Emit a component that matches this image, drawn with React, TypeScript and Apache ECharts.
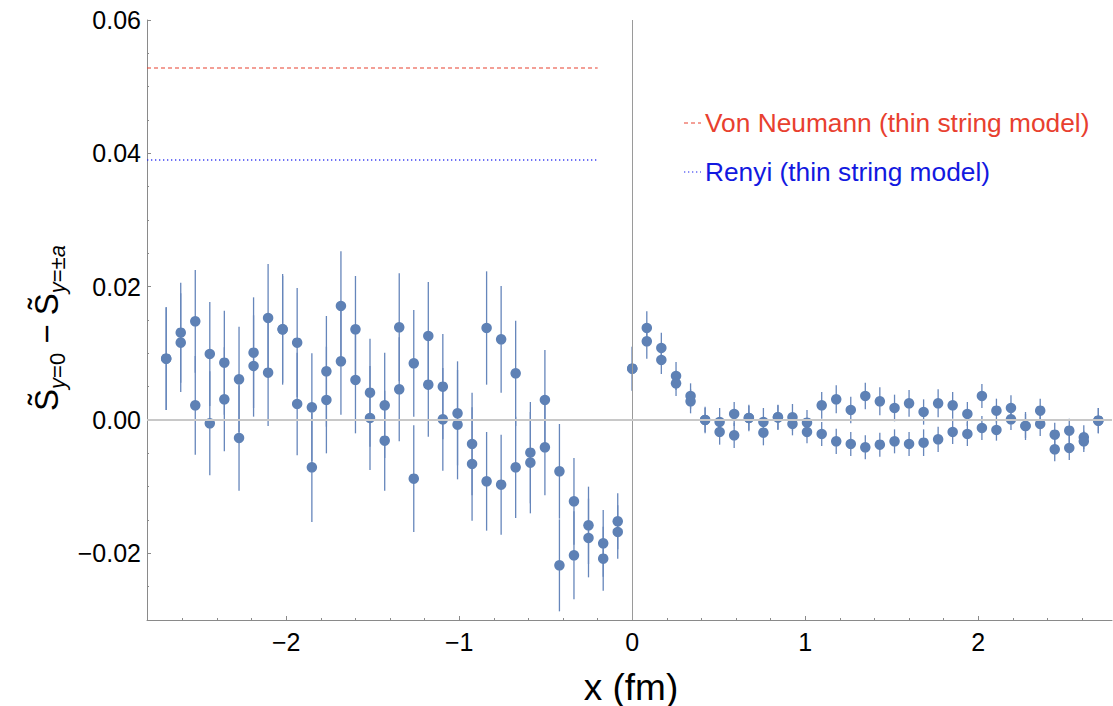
import React, { useEffect, useRef } from "react";
import * as echarts from "echarts";

// lattice positions (fm)
const xs = [-2.694, -2.61, -2.526, -2.442, -2.358, -2.273, -2.189, -2.105, -2.021, -1.937, -1.852, -1.768, -1.684, -1.6, -1.516, -1.431, -1.347, -1.263, -1.179, -1.095, -1.01, -0.926, -0.842, -0.758, -0.674, -0.589, -0.505, -0.421, -0.337, -0.253, -0.168, -0.084, 0, 0.084, 0.168, 0.253, 0.337, 0.421, 0.505, 0.589, 0.674, 0.758, 0.842, 0.926, 1.01, 1.095, 1.179, 1.263, 1.347, 1.431, 1.516, 1.6, 1.684, 1.768, 1.852, 1.937, 2.021, 2.105, 2.189, 2.273, 2.358, 2.442, 2.526, 2.61, 2.694];

const upperVals = [0.0092, 0.0131, 0.0148, 0.0099, 0.0086, 0.0061, 0.0101, 0.0153, 0.0136, 0.0116, 0.0019, 0.0073, 0.0171, 0.0136, 0.0041, 0.0022, 0.0139, 0.0085, 0.0126, 0.005, 0.001, -0.0036, 0.0138, 0.0121, 0.007, -0.0049, 0.003, -0.0077, -0.0122, -0.0158, -0.0185, -0.0152, 0.0077, 0.0138, 0.0108, 0.0066, 0.0036, 0.0, -0.0003, 0.0009, 0.0003, -0.0003, 0.0004, 0.0004, -0.0004, 0.0022, 0.0031, 0.0015, 0.0036, 0.0028, 0.0018, 0.0025, 0.0012, 0.0025, 0.0022, 0.0009, 0.0036, 0.0014, 0.0018, -0.0009, 0.0014, -0.0022, -0.0016, -0.0026, -0.0001];
const upperErr = [0.0077, 0.0075, 0.0077, 0.0078, 0.0078, 0.0079, 0.0083, 0.0081, 0.0083, 0.0082, 0.0081, 0.0083, 0.0082, 0.008, 0.0081, 0.0079, 0.0081, 0.008, 0.0081, 0.0079, 0.0078, 0.0077, 0.0085, 0.008, 0.0079, 0.0076, 0.0075, 0.0071, 0.0065, 0.0058, 0.005, 0.0042, 0.0033, 0.0025, 0.0023, 0.0021, 0.0019, 0.002, 0.0021, 0.0018, 0.0018, 0.0021, 0.0018, 0.002, 0.0019, 0.002, 0.0021, 0.002, 0.002, 0.0021, 0.002, 0.002, 0.0019, 0.0021, 0.002, 0.0018, 0.0018, 0.0018, 0.0019, 0.0021, 0.0018, 0.0018, 0.0018, 0.0018, 0.0019];

const lowerVals = [0.0092, 0.0116, 0.0022, -0.0005, 0.0031, -0.0027, 0.0081, 0.0071, 0.0136, 0.0024, -0.0071, 0.003, 0.0088, 0.006, 0.0003, -0.0031, 0.0046, -0.0088, 0.0053, 0.0001, -0.0007, -0.0066, -0.0092, -0.0097, -0.0071, -0.0064, -0.0041, -0.0218, -0.0203, -0.0177, -0.0208, -0.0168, 0.0077, 0.0118, 0.009, 0.0055, 0.0028, 0.0, -0.0018, -0.0023, 0.0003, -0.0019, 0.0004, -0.0006, -0.0018, -0.0021, -0.0032, -0.0036, -0.0041, -0.0037, -0.0032, -0.0036, -0.0034, -0.0029, -0.0018, -0.0021, -0.0012, -0.0015, 0.0001, -0.0009, -0.0006, -0.0044, -0.0042, -0.0032, -0.0001];
const lowerErr = [0.0077, 0.0074, 0.0074, 0.0078, 0.0078, 0.0079, 0.0076, 0.008, 0.008, 0.0077, 0.0082, 0.008, 0.008, 0.008, 0.0078, 0.0075, 0.0078, 0.008, 0.0078, 0.0077, 0.0082, 0.0085, 0.0074, 0.0075, 0.0076, 0.0076, 0.0072, 0.0069, 0.0066, 0.0059, 0.0048, 0.004, 0.0033, 0.0026, 0.0021, 0.0019, 0.0018, 0.0018, 0.0019, 0.0019, 0.002, 0.0019, 0.0019, 0.0017, 0.0017, 0.0018, 0.0019, 0.0018, 0.0018, 0.0018, 0.0018, 0.0018, 0.002, 0.0019, 0.0018, 0.0018, 0.0018, 0.0016, 0.0016, 0.0018, 0.0018, 0.0018, 0.0018, 0.0016, 0.0019];

const vonNeumannValue = 0.0528;
const renyiValue = 0.039;
const refLineEnd = -0.2;

const xMin = -2.805;
const xMax = 2.773;
const yMin = -0.03;
const yMax = 0.06;

const xMajorTicks = [-2, -1, 0, 1, 2];
const xMinorTicks = [-2.6, -2.4, -2.2, -1.8, -1.6, -1.4, -1.2, -0.8, -0.6, -0.4, -0.2, 0.2, 0.4, 0.6, 0.8, 1.2, 1.4, 1.6, 1.8, 2.2, 2.4, 2.6];
const yMajorTicks = [-0.02, 0, 0.02, 0.04, 0.06];
const yMinorTicks = [-0.025, -0.015, -0.01, -0.005, 0.005, 0.01, 0.015, 0.025, 0.03, 0.035, 0.045, 0.05, 0.055];

const legendLabels = ["Von Neumann (thin string model)", "Renyi (thin string model)"];
const xTitle = "x (fm)";

const FONT = "'Liberation Sans', Arial, Helvetica, sans-serif";
const POINT = "#5e81b5";
const BAR = "#6686bb";
const RED = "#e8402f";
const BLUE = "#1a22f0";
const FRAME = "#8a8a8a";

export default function App() {
  const ref = useRef<HTMLDivElement>(null);
  useEffect(() => {
    if (!ref.current) return;
    const chart = echarts.init(ref.current, null, { renderer: "svg" });

    const errData = [
      ...xs.map((x, i) => [x, upperVals[i], upperErr[i]]),
      ...xs.map((x, i) => [x, lowerVals[i], lowerErr[i]]),
    ];

    const minus = (s: string) => s.replace("-", "\u2212");

    chart.setOption({
      animation: false,
      grid: { left: 147, right: 1, top: 20, bottom: 86 },
      xAxis: [
        {
          type: "value",
          min: xMin,
          max: xMax,
          axisLine: { show: true, onZero: false, lineStyle: { color: FRAME, width: 1 } },
          axisTick: { show: true, inside: true, length: 4, customValues: xMajorTicks, lineStyle: { color: FRAME } },
          axisLabel: {
            show: true,
            customValues: xMajorTicks,
            formatter: (v: number) => minus(String(Math.round(v))),
            fontSize: 25,
            fontFamily: FONT,
            color: "#000",
            margin: 9,
          },
          splitLine: { show: false },
        },
        {
          type: "value",
          min: xMin,
          max: xMax,
          position: "bottom",
          axisLine: { show: false, onZero: false },
          axisTick: { show: true, inside: true, length: 2, customValues: xMinorTicks, lineStyle: { color: FRAME } },
          axisLabel: { show: false },
          splitLine: { show: false },
        },
      ],
      yAxis: [
        {
          type: "value",
          min: yMin,
          max: yMax,
          axisLine: { show: true, onZero: false, lineStyle: { color: FRAME, width: 1 } },
          axisTick: { show: true, inside: true, length: 4, customValues: yMajorTicks, lineStyle: { color: FRAME } },
          axisLabel: {
            show: true,
            customValues: yMajorTicks,
            formatter: (v: number) => minus(v.toFixed(2)).replace("\u22120.00", "0.00"),
            fontSize: 25,
            fontFamily: FONT,
            color: "#000",
            margin: 6,
          },
          splitLine: { show: false },
        },
        {
          type: "value",
          min: yMin,
          max: yMax,
          position: "left",
          axisLine: { show: false, onZero: false },
          axisTick: { show: true, inside: true, length: 2, customValues: yMinorTicks, lineStyle: { color: FRAME } },
          axisLabel: { show: false },
          splitLine: { show: false },
        },
      ],
      series: [
        {
          name: legendLabels[0],
          type: "line",
          z: 1,
          symbol: "none",
          data: [[xMin, vonNeumannValue], [refLineEnd, vonNeumannValue]],
          lineStyle: { color: RED, width: 1.1, type: [4, 3] },
          markLine: {
            silent: true,
            symbol: "none",
            label: { show: false },
            animation: false,
            data: [
              { xAxis: 0, lineStyle: { color: "#9a9a9a", width: 1, type: "solid" } },
              { yAxis: 0, lineStyle: { color: "#c8c8c8", width: 2, type: "solid" } },
            ],
          },
        },
        {
          name: legendLabels[1],
          type: "line",
          z: 1,
          symbol: "none",
          data: [[xMin, renyiValue], [refLineEnd, renyiValue]],
          lineStyle: { color: BLUE, width: 1.3, type: [1.3, 2.7], opacity: 0.85 },
        },
        {
          name: "errors",
          type: "custom",
          z: 2,
          dimensions: ["x", "y", "err"],
          encode: { x: 0, y: 1 },
          data: errData,
          renderItem: (params: any, api: any) => {
            const x = api.value(0);
            const y = api.value(1);
            const e = api.value(2);
            const p1 = api.coord([x, y - e]);
            const p2 = api.coord([x, y + e]);
            return {
              type: "line",
              shape: { x1: p1[0], y1: p1[1], x2: p2[0], y2: p2[1] },
              style: { stroke: BAR, lineWidth: 1.3 },
            };
          },
        },
        {
          name: "upper",
          type: "scatter",
          z: 3,
          symbol: "circle",
          symbolSize: 10.5,
          itemStyle: { color: POINT, opacity: 1 },
          data: xs.map((x, i) => [x, upperVals[i]]),
        },
        {
          name: "lower",
          type: "scatter",
          z: 3,
          symbol: "circle",
          symbolSize: 10.5,
          itemStyle: { color: POINT, opacity: 1 },
          data: xs.map((x, i) => [x, lowerVals[i]]),
        },
      ],
      graphic: [
        {
          type: "line",
          shape: { x1: 684, y1: 123, x2: 701, y2: 123 },
          style: { stroke: RED, lineWidth: 1, lineDash: [4, 3] },
        },
        {
          type: "text",
          x: 705,
          y: 123,
          style: { text: legendLabels[0], fill: RED, fontSize: 26.3, fontFamily: FONT, align: "left", verticalAlign: "middle" },
        },
        {
          type: "line",
          shape: { x1: 684, y1: 172, x2: 701, y2: 172 },
          style: { stroke: BLUE, lineWidth: 1.2, lineDash: [1.3, 2.7] },
        },
        {
          type: "text",
          x: 705,
          y: 172,
          style: { text: legendLabels[1], fill: "#1219e0", fontSize: 26.3, fontFamily: FONT, align: "left", verticalAlign: "middle" },
        },
        {
          type: "text",
          x: 631,
          y: 687,
          style: { text: xTitle, fill: "#000", fontSize: 37, fontFamily: FONT, align: "center", verticalAlign: "middle" },
        },
        {
          type: "text",
          x: 46,
          y: 328,
          rotation: Math.PI / 2,
          style: {
            text: "{s|S\u0303}{si|y}{sb|=0}{s| \u2212 S\u0303}{si|y}{sb|=\u00b1}{si|a}",
            align: "center",
            verticalAlign: "middle",
            fill: "#000",
            fontFamily: FONT,
            rich: {
              s: { fontSize: 33, fontFamily: FONT, lineHeight: 44, verticalAlign: "middle", fill: "#000" },
              si: { fontSize: 22, fontFamily: FONT, fontStyle: "italic", lineHeight: 20, verticalAlign: "bottom", fill: "#000" },
              sb: { fontSize: 22, fontFamily: FONT, lineHeight: 20, verticalAlign: "bottom", fill: "#000" },
            },
          },
        },
      ],
    });
    return () => chart.dispose();
  }, []);
  return <div ref={ref} style={{ position: "fixed", left: 0, top: 0, width: 1113, height: 706, background: "#fff" }} />;
}
